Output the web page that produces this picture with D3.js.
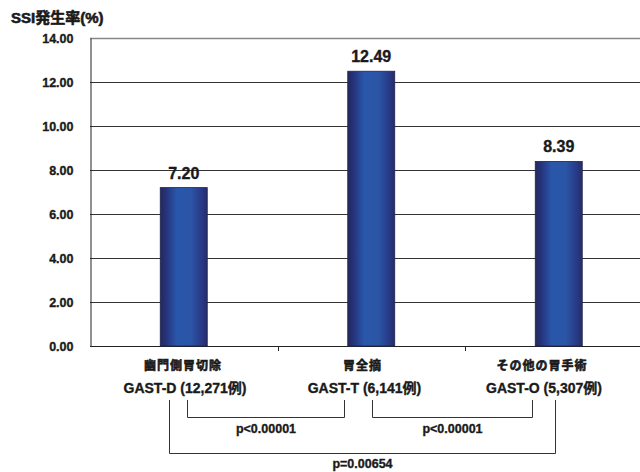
<!DOCTYPE html>
<html>
<head>
<meta charset="utf-8">
<script src="https://cdn.jsdelivr.net/npm/d3@7"></script>
<style>
  body { margin: 0; background: #fff; }
  text { font-family: "Liberation Sans", "Noto Sans CJK JP", sans-serif; font-weight: bold; fill: #1a1a1a; stroke: #1a1a1a; stroke-width: 0.35px; }
  text.cjk { stroke-width: 0.6px; }
</style>
</head>
<body>
<div id="chart"></div>
<script>
// chart data
var categories = ["幽門側胃切除", "胃全摘", "その他の胃手術"];
var groupLabels = ["GAST-D (12,271例)", "GAST-T (6,141例)", "GAST-O (5,307例)"];
var ssiRates = [7.20, 12.49, 8.39];
var yTicks = [0, 2, 4, 6, 8, 10, 12, 14];
var pairA = [0, 1, 0];
var pairB = [1, 2, 2];
var pValues = ["p<0.00001", "p<0.00001", "p=0.00654"];

var width = 640, height = 472;

var svg = d3.select("#chart").append("svg")
    .attr("width", width)
    .attr("height", height);

// scales
var x = d3.scaleBand().domain(categories).range([90, 652.5]);
var y = d3.scaleLinear().domain([0, 14]).range([346, 38]);
// labels under the axis sit a bit tighter than the bands
var xLabel = d3.scalePoint().domain(categories).range([183, 542]);

// gridlines
svg.append("g").selectAll("line")
    .data(yTicks.filter(function(d) { return d > 0; }))
    .enter().append("line")
    .attr("x1", 90).attr("x2", width)
    .attr("y1", function(d) { return y(d) + 0.5; })
    .attr("y2", function(d) { return y(d) + 0.5; })
    .attr("stroke", function(d) { return d === 14 ? "#888" : "#333"; })
    .attr("stroke-width", function(d) { return d === 14 ? 1.5 : 1; });

// y axis
var yAxis = d3.axisLeft(y).tickValues(yTicks).tickSize(0).tickPadding(17)
    .tickFormat(d3.format(".2f"));
var yg = svg.append("g").attr("transform", "translate(90.5,0)").call(yAxis);
yg.select(".domain").attr("stroke", "#222");
yg.selectAll("text").style("font-size", "12.5px").attr("fill", "#1a1a1a");

// x baseline and band ticks
svg.append("line")
    .attr("x1", 90).attr("x2", width)
    .attr("y1", y(0) + 0.5).attr("y2", y(0) + 0.5)
    .attr("stroke", "#222");
svg.append("g").selectAll("line")
    .data(categories.slice(1))
    .enter().append("line")
    .attr("x1", function(d) { return Math.round(x(d)) + 0.5; })
    .attr("x2", function(d) { return Math.round(x(d)) + 0.5; })
    .attr("y1", y(0)).attr("y2", y(0) + 5)
    .attr("stroke", "#222");

// bar gradient
var defs = svg.append("defs");
var grad = defs.append("linearGradient")
    .attr("id", "barGrad")
    .attr("x1", "0%").attr("x2", "100%").attr("y1", "0%").attr("y2", "0%");
grad.append("stop").attr("offset", "0%").style("stop-color", "#23295a");
grad.append("stop").attr("offset", "12%").style("stop-color", "#26327a");
grad.append("stop").attr("offset", "35%").style("stop-color", "#2a57ab");
grad.append("stop").attr("offset", "65%").style("stop-color", "#2b55a6");
grad.append("stop").attr("offset", "88%").style("stop-color", "#283a86");
grad.append("stop").attr("offset", "100%").style("stop-color", "#262c66");

var barW = 47;
var bars = svg.append("g").selectAll("g")
    .data(categories)
    .enter().append("g");

bars.append("rect")
    .attr("x", function(d) { return x(d) + (x.bandwidth() - barW) / 2; })
    .attr("y", function(d, i) { return y(ssiRates[i]); })
    .attr("width", barW)
    .attr("height", function(d, i) { return y(0) - y(ssiRates[i]); })
    .attr("fill", "url(#barGrad)")
    .attr("stroke", "#1e2250")
    .attr("stroke-width", 0.8);

// value labels
bars.append("text")
    .attr("x", function(d) { return x(d) + x.bandwidth() / 2; })
    .attr("y", function(d, i) { return y(ssiRates[i]) - 9; })
    .attr("text-anchor", "middle")
    .style("font-size", "16px")
    .text(function(d, i) { return ssiRates[i].toFixed(2); });

// category labels
svg.append("g").selectAll("text")
    .data(categories)
    .enter().append("text")
    .attr("class", "cjk")
    .attr("x", function(d) { return xLabel(d); })
    .attr("y", 370)
    .attr("text-anchor", "middle")
    .style("font-size", "12px")
    .style("letter-spacing", "1px")
    .text(function(d) { return d; });

svg.append("g").selectAll("text")
    .data(categories)
    .enter().append("text")
    .attr("x", function(d, i) { return xLabel(d) + 2; })
    .attr("y", 393)
    .attr("text-anchor", "middle")
    .style("font-size", "14px")
    .text(function(d, i) { return groupLabels[i]; });

// significance brackets (offsets from label centres)
var leftOff = [4, 9, -14];
var rightOff = [-19, -10, 13];
var bottomY = [417, 417, 453];
var pY = [433, 433, 468];

pValues.forEach(function(p, i) {
    var x1 = Math.round(xLabel(categories[pairA[i]]) + leftOff[i]) + 0.5;
    var x2 = Math.round(xLabel(categories[pairB[i]]) + rightOff[i]) + 0.5;
    svg.append("path")
        .attr("d", "M" + x1 + ",400 V" + (bottomY[i] + 0.5) + " H" + x2 + " V400")
        .attr("fill", "none")
        .attr("stroke", "#333")
        .attr("stroke-width", 1);
    svg.append("text")
        .attr("x", (x1 + x2) / 2)
        .attr("y", pY[i])
        .attr("text-anchor", "middle")
        .style("font-size", "12.5px")
        .text(p);
});

// y axis title
svg.append("text")
    .attr("class", "cjk")
    .attr("x", 11)
    .attr("y", 23)
    .style("font-size", "15px")
    .text("SSI発生率(%)");
</script>
</body>
</html>
